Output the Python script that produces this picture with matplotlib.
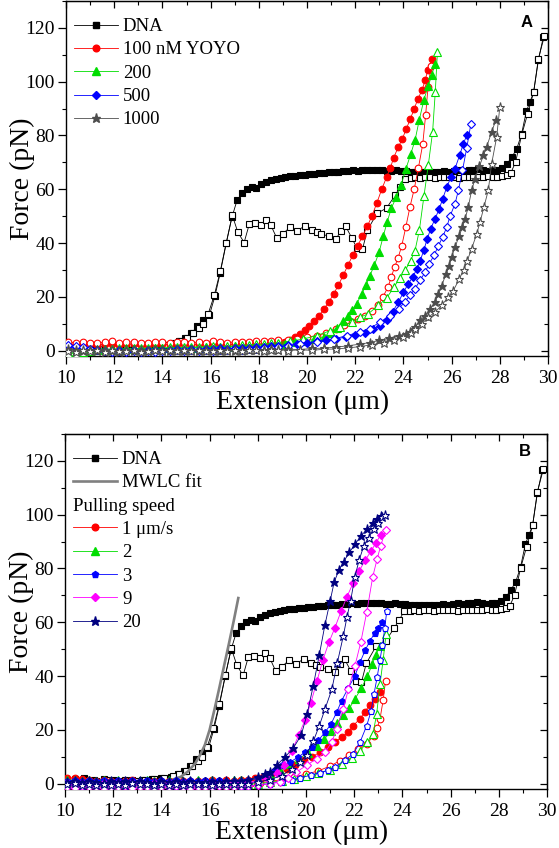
import matplotlib
matplotlib.use("Agg")
import matplotlib.pyplot as plt
from matplotlib.lines import Line2D
from matplotlib.ticker import MultipleLocator

plt.rcParams['font.family'] = ['Liberation Serif', 'DejaVu Serif']
plt.rcParams['mathtext.fontset'] = 'stix'

# ---------------- shared DNA data (both panels) ----------------
dna_f_x = [10.4, 10.8, 11.2, 11.6, 12.0, 12.4, 12.8, 13.2, 13.6, 14.0,
           14.4, 14.7, 14.95, 15.2, 15.45, 15.7, 15.95, 16.18, 16.4, 16.65, 16.88,
           17.1, 17.3, 17.5, 17.7, 17.9, 18.1, 18.3, 18.5, 18.7, 18.9,
           19.1, 19.3, 19.5, 19.7, 19.9, 20.1, 20.3, 20.5, 20.7, 20.9,
           21.1, 21.3, 21.5, 21.7, 21.9, 22.1, 22.3, 22.5, 22.7, 22.9,
           23.1, 23.3, 23.5, 23.7, 23.9, 24.1, 24.3, 24.5, 24.7, 24.9,
           25.1, 25.3, 25.5, 25.7, 25.9, 26.1, 26.3, 26.5, 26.7, 26.9,
           27.1, 27.3, 27.5, 27.7, 27.9, 28.1, 28.3, 28.5, 28.7, 28.9,
           29.1, 29.25, 29.4, 29.6, 29.8]
dna_f_y = [1.8, 2.0, 1.5, 1.7, 1.3, 1.1, 1.4, 1.2, 1.6, 1.9,
           2.5, 3.4, 4.6, 6.5, 9.0, 11.5, 13.2, 20.3, 29.0, 40.0, 49.5,
           56.0, 58.5, 60.0, 61.0, 60.6, 62.0, 62.8, 63.3, 63.8, 64.2,
           64.5, 64.8, 65.0, 65.2, 65.4, 65.6, 65.8, 66.0, 66.1, 66.3,
           66.5, 66.4, 66.7, 66.9, 67.0, 66.8, 67.1, 67.0, 67.3, 67.0,
           67.2, 66.9, 66.8, 67.0, 66.7, 66.8, 66.5, 66.6, 66.3, 66.4,
           66.6, 66.3, 66.5, 66.7, 66.6, 66.9, 67.0, 66.8, 67.1, 67.3,
           67.4, 67.0, 66.8, 67.1, 67.3, 67.8, 69.5, 72.0, 75.0, 80.5,
           89.0, 92.5, 96.0, 108.0, 116.5]
dna_o_x = [10.5, 10.9, 11.3, 11.7, 12.1, 12.5, 12.9, 13.3, 13.7, 14.1,
           14.5, 14.75, 15.0, 15.25, 15.5, 15.7, 15.9, 16.15, 16.4, 16.65, 16.9,
           17.13, 17.39, 17.6, 17.85, 18.1, 18.3, 18.5, 18.75,
           19.0, 19.3, 19.6, 19.9, 20.2, 20.4, 20.6, 20.9, 21.2, 21.4, 21.6, 21.85, 22.06, 22.3,
           22.5, 22.9, 23.3, 23.65, 23.86, 24.07,
           24.3, 24.5, 24.7, 24.9, 25.1, 25.3, 25.5, 25.7, 25.9, 26.1, 26.3,
           26.5, 26.7, 26.9, 27.1, 27.3, 27.5, 27.7, 27.9, 28.1, 28.3,
           28.45, 28.65, 28.9, 29.15, 29.4, 29.6, 29.85]
dna_o_y = [1.0, 1.4, 0.8, 1.2, 0.9, 1.3, 1.1, 1.5, 1.6, 2.0,
           2.8, 3.7, 4.8, 6.5, 8.5, 10.0, 13.7, 20.5, 29.5, 40.2, 50.3,
           44.0, 40.2, 46.9, 47.4, 46.7, 48.5, 46.6, 41.7,
           43.5, 45.9, 44.5, 46.4, 45.0, 44.0, 43.3, 42.6, 41.4, 44.5, 46.3, 42.0, 38.3, 37.7,
           44.7, 51.0, 53.0, 57.7, 60.8, 64.0,
           64.3, 64.5, 64.2, 64.4, 64.6, 64.3, 64.5, 64.4, 64.6, 64.5, 64.3,
           64.6, 64.4, 64.7, 64.5, 64.6, 64.8, 64.5, 64.7, 64.9, 65.2,
           66.0, 70.0, 80.0, 88.0, 96.0, 108.6, 117.0]

# ---------------- panel A: YOYO concentration ----------------
xa_base = [10.1, 10.4, 10.7, 11.0, 11.3, 11.6, 11.9, 12.2, 12.5, 12.8,
           13.1, 13.4, 13.7, 14.0, 14.3, 14.6, 14.9, 15.2, 15.5, 15.8,
           16.1, 16.4, 16.7, 17.0, 17.3, 17.6, 17.9, 18.2, 18.5, 18.8]

a100_f_base = [2.4, 2.2, 2.5, 2.3, 2.1, 2.4, 2.6, 2.2, 2.3, 2.5, 2.2, 2.0, 2.3, 2.4, 2.2,
               2.5, 2.3, 2.1, 2.4, 2.2, 2.6, 2.3, 2.2, 2.4, 2.5, 2.3, 2.6, 2.4, 2.7, 2.9]
a100_f_x = [19.1, 19.3, 19.5, 19.7, 19.9, 20.1, 20.3, 20.5, 20.7, 20.9, 21.1, 21.3, 21.5, 21.7,
            21.9, 22.1, 22.3, 22.5, 22.7, 22.9, 23.1, 23.3, 23.45, 23.6, 23.78, 23.95, 24.12,
            24.28, 24.45, 24.6, 24.78, 24.9, 25.02, 25.2]
a100_f_y = [3.2, 4.0, 5.0, 6.2, 7.6, 9.3, 11.0, 13.0, 15.5, 18.0, 21.0, 24.3, 28.0, 31.8,
            35.5, 39.0, 42.5, 46.2, 50.2, 55.0, 60.0, 64.5, 67.8, 71.8, 75.6, 78.6, 82.5,
            86.0, 90.0, 93.6, 97.0, 100.6, 104.5, 108.5]
a100_o_base = [3.1, 2.9, 3.3, 3.0, 2.8, 3.2, 3.4, 2.9, 3.1, 3.3, 3.0, 2.8, 3.1, 3.2, 3.0,
               3.3, 3.1, 2.9, 3.2, 3.0, 3.4, 3.1, 3.0, 3.2, 3.3, 3.1, 3.4, 3.5, 3.7, 3.9]
a100_o_x = [19.2, 19.6, 20.0, 20.4, 20.8, 21.2, 21.55, 21.85, 22.1, 22.4, 22.68, 22.95, 23.15,
            23.36, 23.5, 23.63, 23.78, 23.93, 24.1, 24.27, 24.45, 24.62, 24.8, 24.92, 25.02, 25.15]
a100_o_y = [4.0, 4.5, 5.0, 5.6, 6.5, 8.0, 9.4, 10.6, 11.9, 13.0, 14.9, 16.8, 20.0,
            23.6, 27.5, 31.0, 34.5, 39.0, 46.0, 53.4, 60.2, 67.9, 76.7, 87.5, 98.0, 106.0]

a200_f_base = [-1.0, -0.6, -0.2, 0.2, 0.5, 0.7, 0.5, 0.8, 0.6, 0.9, 0.7, 1.0, 0.8, 1.1, 0.9,
               1.2, 1.0, 1.3, 1.1, 1.4, 1.2, 1.5, 1.3, 1.6, 1.5, 1.7, 1.6, 1.9, 2.0, 2.3]
a200_f_x = [19.1, 19.5, 19.9, 20.3, 20.7, 21.0, 21.25, 21.5, 21.7, 21.87, 22.06, 22.27, 22.45,
            22.61, 22.79, 22.99, 23.17, 23.33, 23.5, 23.7, 23.9, 24.1, 24.3, 24.48, 24.66,
            24.85, 25.03, 25.18, 25.3]
a200_f_y = [2.6, 3.1, 3.6, 4.2, 5.0, 6.4, 8.5, 11.0, 13.0, 15.0, 17.4, 21.1, 24.4,
            27.9, 31.7, 36.6, 42.8, 48.0, 53.0, 57.0, 61.5, 67.5, 73.0, 78.2, 85.9,
            93.3, 98.5, 102.5, 106.5]
a200_o_base = [-0.8, -1.2, -0.5, -0.2, 0.3, 0.1, 0.6, 0.4, 0.8, 0.5, 0.9, 0.7, 1.0, 0.8, 1.2,
               1.0, 1.3, 1.1, 1.5, 1.3, 1.6, 1.4, 1.8, 1.6, 2.0, 2.1, 2.3, 2.4, 2.7, 3.0]
a200_o_x = [19.3, 19.85, 20.4, 20.96, 21.37, 21.85, 22.2, 22.54, 22.96, 23.3, 23.6, 23.85,
            24.07, 24.3, 24.48, 24.66, 24.85, 25.03, 25.21, 25.32, 25.41]
a200_o_y = [3.5, 4.3, 5.6, 7.4, 8.7, 10.6, 12.4, 13.7, 16.8, 19.5, 23.5, 27.0,
            29.8, 33.5, 37.2, 44.7, 57.4, 68.9, 81.3, 96.0, 111.0]

a500_f_base = [1.8, 1.5, 1.0, 0.6, 0.3, 0.0, -0.2, 0.1, -0.1, 0.2, 0.0, 0.3, 0.1, 0.4, 0.2,
               0.5, 0.3, 0.6, 0.4, 0.7, 0.5, 0.8, 0.7, 1.0, 0.9, 1.1, 1.2, 1.4, 1.6, 1.9]
a500_f_x = [19.2, 19.6, 20.0, 20.4, 20.8, 21.2, 21.6, 22.0, 22.4, 22.75, 23.03, 23.3, 23.55,
            23.79, 24.0, 24.2, 24.38, 24.55, 24.7, 24.85, 24.99, 25.13, 25.31, 25.49, 25.63,
            25.8, 25.97, 26.14, 26.33, 26.49, 26.63]
a500_f_y = [2.2, 2.6, 3.0, 3.4, 3.9, 4.4, 5.0, 5.7, 6.6, 7.9, 9.3, 11.5, 14.5,
            18.0, 21.7, 24.8, 27.3, 30.2, 33.5, 37.5, 41.6, 45.3, 49.0, 52.8, 56.5,
            60.8, 64.5, 67.7, 72.6, 77.0, 80.1]
a500_o_base = [2.2, 1.7, 1.2, 0.7, 0.2, -0.3, -0.5, -0.3, -0.6, -0.2, -0.5, -0.1, -0.4, 0.0, -0.3,
               0.1, -0.2, 0.2, -0.1, 0.3, 0.0, 0.4, 0.1, 0.5, 0.3, 0.6, 0.5, 0.8, 1.0, 1.3]
a500_o_x = [19.2, 19.7, 20.4, 21.1, 21.65, 22.2, 22.6, 23.03, 23.44, 23.8, 24.05, 24.27,
            24.48, 24.69, 24.9, 25.07, 25.27, 25.45, 25.63, 25.8, 25.93, 26.14, 26.28,
            26.45, 26.63, 26.8]
a500_o_y = [1.8, 2.5, 3.1, 4.3, 5.6, 6.9, 8.2, 10.6, 13.0, 15.5, 18.0, 20.5,
            23.0, 26.1, 29.2, 32.3, 35.4, 39.0, 42.3, 46.0, 49.9, 54.6, 59.6,
            67.0, 75.5, 84.4]

a1000_f_base = [0.5, 0.2, -0.3, 0.1, -0.2, 0.3, 0.0, -0.4, 0.2, -0.1, 0.3, -0.2, 0.1, 0.4, -0.1,
                0.2, 0.0, 0.3, -0.2, 0.1, 0.4, 0.0, 0.2, -0.1, 0.3, 0.1, 0.4, 0.2, 0.5, 0.3]
a1000_f_x = [19.2, 19.7, 20.2, 20.7, 21.2, 21.7, 22.2, 22.6, 23.0, 23.4, 23.8, 24.1, 24.27,
             24.48, 24.69, 24.9, 25.1, 25.31, 25.45, 25.59, 25.77, 25.9, 26.0, 26.14, 26.32,
             26.45, 26.56, 26.69, 26.83, 26.97, 27.15, 27.32, 27.45, 27.66, 27.84]
a1000_f_y = [0.5, 0.4, 0.8, 0.9, 1.3, 1.8, 2.4, 3.0, 3.8, 4.6, 5.6, 6.3, 6.8,
             8.7, 11.2, 13.0, 15.5, 18.0, 21.0, 24.2, 28.6, 31.5, 34.8, 38.5, 42.8,
             46.0, 49.0, 53.4, 59.6, 63.9, 68.5, 72.6, 75.7, 81.3, 85.9]
a1000_o_base = [0.0, -0.4, 0.2, -0.2, 0.1, -0.5, 0.3, -0.1, -0.3, 0.2, -0.4, 0.0, 0.3, -0.2, 0.1,
                -0.3, 0.2, -0.1, 0.4, -0.2, 0.0, 0.3, -0.1, 0.2, -0.3, 0.1, 0.3, 0.0, 0.2, 0.4]
a1000_o_x = [19.2, 19.7, 20.2, 20.7, 21.2, 21.7, 22.2, 22.7, 23.2, 23.6, 24.0, 24.3, 24.48,
             24.76, 25.03, 25.31, 25.6, 25.86, 26.07, 26.32, 26.5, 26.65, 26.83, 27.04,
             27.18, 27.34, 27.52, 27.66, 27.87, 28.0]
a1000_o_y = [0.0, 0.3, 0.1, 0.5, 0.6, 1.0, 1.5, 2.2, 3.0, 4.0, 5.2, 6.5, 8.1,
             9.9, 12.4, 14.3, 17.0, 19.9, 22.3, 26.7, 30.0, 33.5, 37.9, 43.4,
             47.8, 53.4, 59.6, 69.5, 79.5, 90.7]

labels_a = ['DNA', '100 nM YOYO', '200', '500', '1000']

# ---------------- panel B: pulling speed ----------------
xb_base = [10.1, 10.4, 10.7, 11.0, 11.3, 11.6, 11.9, 12.2, 12.5, 12.8,
           13.1, 13.4, 13.7, 14.0, 14.3, 14.6, 14.9, 15.2, 15.5, 15.8,
           16.1, 16.4, 16.7, 17.0, 17.3]

mwlc_x = [10.0, 11.0, 12.0, 13.0, 13.5, 14.0, 14.5, 14.8, 15.1, 15.4, 15.6, 15.8,
          16.0, 16.2, 16.4, 16.6, 16.8, 17.0, 17.19]
mwlc_y = [-0.8, -0.7, -0.5, -0.2, 0.2, 0.7, 1.6, 2.5, 4.5, 7.5, 10.5, 14.3,
          20.0, 27.5, 35.5, 43.8, 52.0, 60.5, 69.0]

s1_f_base = [2.0, 2.2, 1.6, 1.3, 1.0, 1.2, 0.8, 1.1, 0.9, 1.2, 0.7, 1.0, 0.8, 1.1, 0.9,
             0.6, 1.0, 0.8, 1.1, 0.9, 1.2, 1.0, 1.3, 1.1, 1.4]
s1_f_x = [17.6, 17.9, 18.2, 18.55, 18.87, 19.2, 19.55, 19.9, 20.24, 20.58, 20.92, 21.2,
          21.48, 21.76, 21.96, 22.24, 22.45, 22.65, 22.85, 23.05]
s1_f_y = [1.5, 2.0, 2.6, 3.4, 4.3, 5.6, 7.0, 8.6, 9.9, 11.7, 13.6, 15.4,
          17.3, 19.1, 21.6, 24.1, 26.8, 29.4, 31.5, 34.0]
s1_o_base = [0.8, 0.5, 0.9, 0.4, 0.7, 0.3, 0.6, 0.2, 0.5, 0.1, 0.4, 0.0, 0.3, -0.1, 0.2,
             0.0, 0.3, -0.2, 0.1, 0.2, -0.1, 0.3, 0.0, 0.2, 0.1]
s1_o_x = [17.7, 18.1, 18.5, 19.0, 19.5, 20.0, 20.5, 21.0, 21.4, 21.8, 22.17, 22.52,
          22.8, 22.95, 23.07, 23.2, 23.3]
s1_o_y = [0.2, 0.4, 0.8, 1.5, 2.5, 3.5, 4.7, 6.5, 8.5, 10.8, 13.0, 14.8,
          17.7, 20.5, 24.1, 31.0, 38.3]

s2_f_base = [1.5, 1.2, 1.0, 1.4, 0.9, 1.3, 0.8, 1.2, 0.7, 1.1, 0.9, 1.3, 0.8, 1.0, 1.2,
             0.7, 1.1, 0.9, 1.3, 1.0, 1.2, 0.8, 1.1, 1.3, 1.2]
s2_f_x = [17.6, 18.0, 18.5, 18.9, 19.3, 19.7, 20.1, 20.45, 20.75, 21.05, 21.3, 21.55,
          21.8, 22.03, 22.3, 22.55, 22.75, 22.9, 23.07]
s2_f_y = [1.4, 2.0, 3.5, 5.2, 7.2, 9.2, 11.5, 14.0, 16.5, 19.5, 22.5, 25.5,
          28.0, 31.5, 35.5, 40.0, 44.4, 48.0, 51.2]
s2_o_base = [0.3, 0.0, -0.3, 0.2, -0.1, 0.1, -0.4, 0.0, -0.2, 0.3, -0.1, 0.1, -0.3, 0.2, 0.0,
             -0.2, 0.1, -0.1, 0.2, -0.3, 0.0, 0.1, -0.2, 0.0, -0.3]
s2_o_x = [17.6, 18.0, 18.5, 19.0, 19.5, 20.0, 20.5, 21.0, 21.5, 21.9, 22.25, 22.55,
          22.78, 22.93, 23.07, 23.2, 23.32]
s2_o_y = [-0.3, 0.0, 0.5, 1.0, 1.8, 2.8, 3.8, 5.2, 7.3, 9.5, 12.3, 15.5,
          18.5, 25.9, 37.0, 46.0, 55.6]

s3_f_base = [0.8, 1.2, 0.9, 1.4, 1.0, 1.5, 1.1, 1.3, 0.9, 1.2, 1.0, 1.4, 1.1, 1.3, 0.9,
             1.2, 1.0, 1.4, 1.1, 1.2, 0.9, 1.3, 1.0, 1.1, 0.8]
s3_f_x = [17.6, 18.0, 18.4, 18.7, 19.0, 19.34, 19.68, 19.96, 20.24, 20.51, 20.79, 21.04,
          21.27, 21.48, 21.75, 22.03, 22.24, 22.45, 22.65, 22.85, 23.0, 23.14]
s3_f_y = [1.2, 2.0, 3.5, 5.0, 6.8, 8.0, 9.9, 11.7, 13.6, 16.1, 19.1, 22.2,
          26.5, 30.9, 35.5, 40.1, 45.1, 49.5, 53.0, 56.0, 57.8, 60.0]
s3_o_base = [-0.8, -0.5, -1.0, -0.6, -0.9, -0.4, -0.8, -0.5, -1.0, -0.7, -0.4, -0.9, -0.6, -0.8, -0.5,
             -1.0, -0.7, -0.9, -0.6, -0.8, -1.0, -0.7, -0.9, -1.0, -1.1]
s3_o_x = [17.6, 18.0, 18.5, 19.0, 19.4, 19.75, 20.2, 20.58, 20.9, 21.2, 21.62, 21.96,
          22.24, 22.52, 22.7, 22.82, 22.95, 23.07, 23.17, 23.27, 23.35]
s3_o_y = [-1.0, -0.5, 0.0, 0.7, 1.2, 2.2, 3.1, 4.1, 4.9, 6.2, 8.7, 11.1,
          15.4, 21.6, 27.0, 33.3, 39.5, 46.0, 51.5, 58.0, 64.2]

s9_f_base = [0.2, -0.2, 0.3, 0.0, -0.3, 0.2, -0.1, 0.1, -0.3, 0.2, 0.0, -0.2, 0.3, -0.1, 0.1,
             -0.2, 0.2, 0.0, -0.3, 0.1, 0.3, 0.0, 0.2, 0.1, 0.4]
s9_f_x = [17.6, 18.0, 18.4, 18.8, 19.1, 19.4, 19.7, 19.95, 20.2, 20.45, 20.7, 20.95,
          21.2, 21.45, 21.7, 21.95, 22.2, 22.45, 22.7, 22.9, 23.1]
s9_f_y = [0.5, 1.0, 2.0, 4.0, 7.0, 12.0, 18.0, 23.5, 30.0, 38.0, 46.0, 52.5,
          58.0, 64.0, 69.5, 74.5, 79.0, 83.0, 86.5, 89.5, 92.5]
s9_o_base = [-1.2, -1.5, -1.0, -1.4, -1.1, -1.6, -1.2, -1.4, -1.0, -1.5, -1.3, -1.1, -1.5, -1.2, -1.4,
             -1.0, -1.3, -1.5, -1.1, -1.4, -1.2, -1.0, -1.3, -1.1, -1.0]
s9_o_x = [17.6, 18.0, 18.5, 18.9, 19.27, 19.6, 20.03, 20.44, 20.79, 21.07, 21.27, 21.55,
          21.76, 22.03, 22.27, 22.52, 22.77, 22.95, 23.1, 23.3]
s9_o_y = [-1.0, -0.5, 0.0, 0.6, 1.9, 4.3, 6.8, 9.3, 11.7, 15.4, 20.4, 27.8,
          35.2, 43.8, 52.5, 63.8, 77.0, 83.5, 88.5, 94.2]

s20_f_base = [0.5, 0.9, 0.6, 1.0, 0.7, 0.4, 0.8, 0.5, 0.9, 0.6, 1.0, 0.7, 0.4, 0.8, 0.5,
              0.9, 0.6, 1.0, 0.7, 0.5, 0.8, 0.6, 0.9, 0.8, 1.1]
s20_f_x = [17.6, 18.0, 18.3, 18.5, 18.8, 19.13, 19.47, 19.8, 20.05, 20.3, 20.55, 20.78,
           21.0, 21.17, 21.37, 21.56, 21.8, 22.03, 22.27, 22.52, 22.77, 22.95, 23.1]
s20_f_y = [1.5, 2.5, 3.5, 4.3, 7.0, 9.9, 13.2, 18.0, 26.0, 36.4, 47.8, 58.8,
           67.9, 75.0, 79.5, 82.5, 86.0, 89.0, 92.0, 94.5, 96.8, 98.3, 99.5]
s20_o_base = [-0.3, 0.1, -0.5, -0.1, -0.4, 0.0, -0.6, -0.2, -0.5, 0.1, -0.3, -0.1, -0.5, 0.0, -0.4,
              -0.2, -0.6, -0.1, -0.3, 0.0, -0.4, -0.2, -0.3, 0.0, -0.2]
s20_o_x = [17.6, 18.0, 18.5, 19.0, 19.4, 19.75, 20.03, 20.3, 20.55, 20.79, 21.07, 21.3,
           21.55, 21.7, 21.85, 22.03, 22.2, 22.4, 22.6, 22.8, 23.0, 23.15, 23.28]
s20_o_y = [0.0, 0.5, 1.5, 3.0, 5.4, 8.0, 10.8, 15.7, 21.5, 27.8, 35.0, 45.0,
           55.0, 62.0, 68.0, 77.0, 83.0, 88.5, 91.5, 94.5, 97.0, 99.0, 100.0]

labels_b = ['DNA', 'MWLC fit', 'Pulling speed', '1 \u03bcm/s', '2', '3', '9', '20']

# ---------------- drawing ----------------
RED, GREEN, BLUE, GRAY = '#ff0000', '#00dd00', '#0000ff', '#4d4d4d'
MAG, NAVY = '#ff00ff', '#000080'
MS = {'s': 4.0, 'o': 4.8, '^': 5.3, 'D': 4.0, '*': 6.5, 'p': 5.0}
LEG_KW = dict(loc='upper left', bbox_to_anchor=(0.004, 0.968), frameon=False,
              fontsize=13.5, handlelength=2.35, handletextpad=0.28, labelspacing=0.33,
              borderaxespad=0, borderpad=0.3)


def series(ax, x, y, color, marker, filled, z):
    ax.plot(x, y, color=color, lw=0.6, marker=marker, ms=MS[marker],
            mfc=color if filled else 'white', mec=color, mew=0.8, zorder=z)


def style_axes(ax, xlab_y):
    ax.set_xlim(10, 30)
    ax.set_ylim(-2, 130)
    ax.set_xticks(list(range(10, 31, 2)))
    ax.set_yticks(list(range(0, 121, 20)))
    ax.xaxis.set_minor_locator(MultipleLocator(1))
    ax.yaxis.set_minor_locator(MultipleLocator(10))
    ax.tick_params(which='major', direction='out', length=5.5, width=0.9,
                   labelsize=14, top=False, right=False)
    ax.tick_params(which='minor', direction='out', length=3, width=0.8,
                   top=False, right=False)
    ax.tick_params(axis='x', pad=4.5)
    ax.tick_params(axis='y', pad=2.5)
    for sp in ax.spines.values():
        sp.set_linewidth(1.0)
    sx = ax.secondary_xaxis('top')
    sx.set_xticks(list(range(10, 31, 2)))
    sx.xaxis.set_minor_locator(MultipleLocator(1))
    sx.tick_params(which='major', direction='in', length=5, width=0.9, labeltop=False)
    sx.tick_params(which='minor', direction='in', length=3, width=0.8)
    sy = ax.secondary_yaxis('right')
    sy.set_yticks(list(range(0, 121, 20)))
    sy.yaxis.set_minor_locator(MultipleLocator(10))
    sy.tick_params(which='major', direction='in', length=5, width=0.9, labelright=False)
    sy.tick_params(which='minor', direction='in', length=3, width=0.8)
    ax.set_xlabel('Extension (\u03bcm)', fontsize=20)
    ax.set_ylabel('Force (pN)', fontsize=20)
    ax.xaxis.set_label_coords(0.49, xlab_y)
    ax.yaxis.set_label_coords(-0.064, 0.5)


fig = plt.figure(figsize=(5.59, 8.48), dpi=100)
axA = fig.add_axes([0.1181, 0.5802, 0.8623, 0.4186])
axB = fig.add_axes([0.1163, 0.0696, 0.8623, 0.4186])

# Panel A
series(axA, dna_f_x, dna_f_y, 'black', 's', True, 3)
series(axA, dna_o_x, dna_o_y, 'black', 's', False, 3)
series(axA, xa_base + a100_f_x, a100_f_base + a100_f_y, RED, 'o', True, 4)
series(axA, xa_base + a100_o_x, a100_o_base + a100_o_y, RED, 'o', False, 4)
series(axA, xa_base + a200_f_x, a200_f_base + a200_f_y, GREEN, '^', True, 5)
series(axA, xa_base + a200_o_x, a200_o_base + a200_o_y, GREEN, '^', False, 5)
series(axA, xa_base + a500_f_x, a500_f_base + a500_f_y, BLUE, 'D', True, 6)
series(axA, xa_base + a500_o_x, a500_o_base + a500_o_y, BLUE, 'D', False, 6)
series(axA, xa_base + a1000_f_x, a1000_f_base + a1000_f_y, GRAY, '*', True, 7)
series(axA, xa_base + a1000_o_x, a1000_o_base + a1000_o_y, GRAY, '*', False, 7)
style_axes(axA, -0.095)

hA = [Line2D([], [], color=c, lw=0.6, marker=m, ms=MS[m], mfc=c, mec=c)
      for c, m in [('black', 's'), (RED, 'o'), (GREEN, '^'), (BLUE, 'D'), (GRAY, '*')]]
axA.legend(hA, labels_a, **LEG_KW)
axA.text(0.956, 0.94, 'A', transform=axA.transAxes, ha='center', va='center',
         fontsize=12, fontweight='bold', family=['Liberation Sans', 'DejaVu Sans'])

# Panel B
series(axB, dna_f_x, dna_f_y, 'black', 's', True, 3)
series(axB, dna_o_x, dna_o_y, 'black', 's', False, 3)
axB.plot(mwlc_x, mwlc_y, color='#808080', lw=1.9, zorder=3.5)
series(axB, xb_base + s1_f_x, s1_f_base + s1_f_y, RED, 'o', True, 4)
series(axB, xb_base + s1_o_x, s1_o_base + s1_o_y, RED, 'o', False, 4)
series(axB, xb_base + s2_f_x, s2_f_base + s2_f_y, GREEN, '^', True, 5)
series(axB, xb_base + s2_o_x, s2_o_base + s2_o_y, GREEN, '^', False, 5)
series(axB, xb_base + s3_f_x, s3_f_base + s3_f_y, BLUE, 'p', True, 6)
series(axB, xb_base + s3_o_x, s3_o_base + s3_o_y, BLUE, 'p', False, 6)
series(axB, xb_base + s9_f_x, s9_f_base + s9_f_y, MAG, 'D', True, 7)
series(axB, xb_base + s9_o_x, s9_o_base + s9_o_y, MAG, 'D', False, 7)
series(axB, xb_base + s20_f_x, s20_f_base + s20_f_y, NAVY, '*', True, 8)
series(axB, xb_base + s20_o_x, s20_o_base + s20_o_y, NAVY, '*', False, 8)
style_axes(axB, -0.088)

hB = [Line2D([], [], color='black', lw=0.6, marker='s', ms=MS['s']),
      Line2D([], [], color='#808080', lw=1.9),
      Line2D([], [], color='none', lw=0)]
hB += [Line2D([], [], color=c, lw=0.6, marker=m, ms=MS[m], mfc=c, mec=c)
       for c, m in [(RED, 'o'), (GREEN, '^'), (BLUE, 'p'), (MAG, 'D'), (NAVY, '*')]]
legB = axB.legend(hB, [labels_b[0], labels_b[1], ' '] + labels_b[3:], **LEG_KW)
axB.text(0.954, 0.952, 'B', transform=axB.transAxes, ha='center', va='center',
         fontsize=12, fontweight='bold', family=['Liberation Sans', 'DejaVu Sans'])

# place "Pulling speed" on the blank legend row, aligned with the handle column
fig.canvas.draw()
rend = fig.canvas.get_renderer()
bb_row = legB.get_texts()[2].get_window_extent(rend)
yc = (bb_row.y0 + bb_row.y1) / 2
_, py = axB.transAxes.inverted().transform((0, yc))
axB.text(0.017, py, labels_b[2], transform=axB.transAxes, ha='left', va='center',
         fontsize=13.5)

fig.savefig('out.png', dpi=100)
